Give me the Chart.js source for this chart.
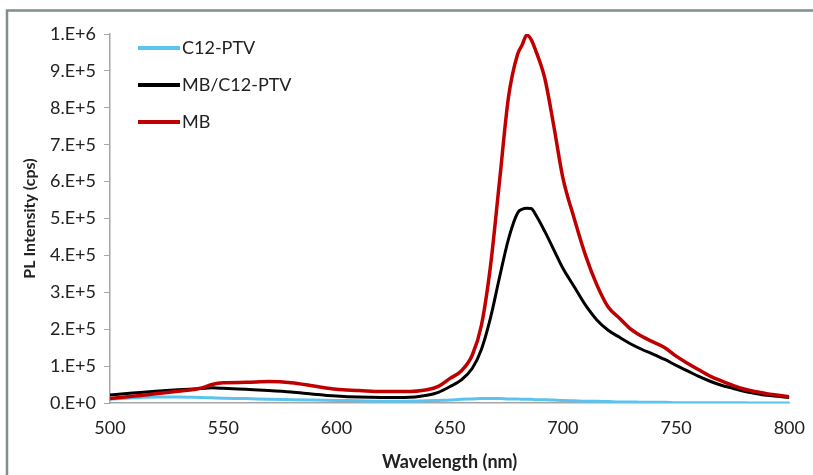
<!DOCTYPE html>
<html>
<head>
<meta charset="utf-8">
<script src="https://cdn.jsdelivr.net/npm/chart.js@4/dist/chart.umd.min.js"></script>
<style>
  html, body { margin: 0; padding: 0; background: #fff; }
  #wrap { width: 813px; height: 475px; position: relative; }
</style>
</head>
<body>
<div id="wrap"><canvas id="grafico" width="813" height="475"></canvas></div>
<script>
// PL spectra, values (x 1e5 cps)
const wavelength = [500,510,520,530,540,545,550,560,570,580,590,600,610,620,630,640,645,650,655,660,
  664,668,672,676,680,682,684,686,688,692,696,700,705,710,715,720,725,730,735,740,745,750,755,760,765,
  770,775,780,785,790,795,800];

const c12ptv = [0.10,0.14,0.16,0.16,0.15,0.14,0.13,0.12,0.10,0.09,0.08,0.07,0.06,0.05,0.05,0.06,0.07,0.08,0.10,0.11,
  0.12,0.12,0.12,0.11,0.11,0.10,0.10,0.10,0.09,0.09,0.08,0.07,0.06,0.05,0.05,0.04,0.03,0.03,0.02,0.02,0.02,0.01,0.01,0.01,0.01,
  0.005,0.005,0.005,0,0,0,0];

const mbC12ptv = [0.22,0.27,0.32,0.36,0.39,0.41,0.40,0.37,0.34,0.30,0.24,0.19,0.16,0.15,0.15,0.21,0.29,0.44,0.62,0.94,
  1.45,2.3,3.4,4.45,5.15,5.25,5.28,5.27,5.1,4.65,4.15,3.65,3.15,2.65,2.25,1.97,1.78,1.6,1.45,1.32,1.18,1.02,0.87,0.72,0.59,
  0.48,0.40,0.32,0.26,0.21,0.18,0.15];

const mb = [0.12,0.18,0.25,0.32,0.40,0.50,0.55,0.56,0.58,0.55,0.46,0.37,0.34,0.31,0.31,0.36,0.45,0.66,0.86,1.3,
  2.1,3.7,6.0,8.3,9.45,9.7,9.97,9.85,9.55,8.8,7.5,6.1,5.0,4.0,3.2,2.6,2.3,2.0,1.8,1.65,1.5,1.27,1.08,0.9,0.73,
  0.6,0.48,0.38,0.31,0.25,0.21,0.17];

const seriesNames = ["C12-PTV", "MB/C12-PTV", "MB"];
const seriesColors = ["#5bc3f0", "#000000", "#c00000"];
const seriesWidths = [3, 3, 3.5];

const toPoints = arr => arr.map((v, i) => ({ x: wavelength[i], y: v * 1e5 }));

// "1.E+6" style tick labels like Excel
function sciLabel(v){
  if (v === 0) return "0.E+0";
  const e = Math.floor(Math.log10(v) + 1e-9);
  const m = Math.round(v / Math.pow(10, e));
  return `${m}.E+${e}`;
}

const FONT = "Lato, 'Liberation Sans', sans-serif";

// leyenda dentro del área del gráfico + marco exterior (solo arriba/izquierda visibles)
const decor = {
  id: "decor",
  afterDraw(chart){
    const ctx = chart.ctx;
    ctx.save();
    ctx.strokeStyle = "#7f8f8f";
    ctx.lineWidth = 2.5;
    ctx.strokeRect(7, 10.5, 830, 490);

    ctx.font = `18px ${FONT}`;
    ctx.textBaseline = "middle";
    ctx.fillStyle = "#222";
    chart.data.datasets.forEach((ds, i) => {
      const y = 48 + i * 37;
      ctx.strokeStyle = ds.borderColor;
      ctx.lineWidth = 4;
      ctx.beginPath();
      ctx.moveTo(138, y);
      ctx.lineTo(180, y);
      ctx.stroke();
      ctx.fillText(ds.label, 182, y);
    });
    ctx.restore();
  }
};

const datasets = [c12ptv, mbC12ptv, mb].map((arr, i) => ({
  label: seriesNames[i],
  data: toPoints(arr),
  borderColor: seriesColors[i],
  borderWidth: seriesWidths[i],
  pointRadius: 0,
  fill: false,
  cubicInterpolationMode: "monotone",
  order: 3 - i
}));

new Chart(document.getElementById("grafico").getContext("2d"), {
  type: "line",
  data: { datasets },
  options: {
    responsive: false,
    animation: false,
    layout: { padding: { left: 10, right: 23, top: 34, bottom: 0 } },
    plugins: { legend: { display: false }, tooltip: { enabled: false } },
    scales: {
      x: {
        type: "linear",
        min: 500, max: 800,
        border: { color: "#a6a6a6", width: 1.5 },
        grid: { display: false, drawOnChartArea: false, drawTicks: true, tickLength: 6, color: "#a6a6a6" },
        ticks: { stepSize: 50, color: "#222", padding: 8, font: { family: FONT, size: 18 } },
        title: { display: true, text: "Wavelength (nm)", color: "#222", padding: { top: 4, bottom: 2 },
                 font: { family: FONT, size: 18, weight: "bold" } },
        afterFit: s => { s.height = 72; }
      },
      y: {
        min: 0, max: 1e6,
        border: { color: "#a6a6a6", width: 1.5 },
        grid: { display: true, drawOnChartArea: false, drawTicks: true, tickLength: 6, color: "#a6a6a6" },
        ticks: { stepSize: 1e5, color: "#222", padding: 8, callback: v => sciLabel(v),
                 font: { family: FONT, size: 18 } },
        title: { display: true, text: "PL Intensity (cps)", color: "#222", padding: { top: 10, bottom: 4 },
                 font: { family: FONT, size: 16, weight: "bold" } },
        afterFit: s => { s.width = 100; }
      }
    }
  },
  plugins: [decor]
});
</script>
</body>
</html>
